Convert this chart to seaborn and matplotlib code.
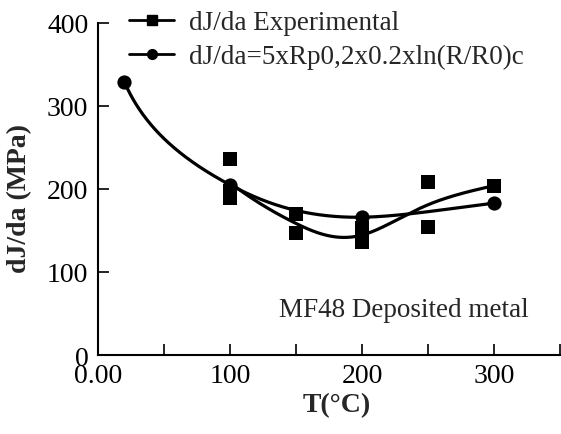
import numpy as np
import pandas as pd
import matplotlib
matplotlib.use("Agg")
import matplotlib.pyplot as plt
import seaborn as sns
from matplotlib.lines import Line2D
from matplotlib.ticker import FixedLocator, FixedFormatter

# Measured dJ/da values (MPa) at each test temperature (°C)
exp_T = [100, 100, 100, 150, 150, 200, 200, 250, 250, 300]
exp_J = [236, 198, 189, 170, 147, 153, 136, 208, 154, 204]

# Values from dJ/da = 5 x Rp0,2 x 0.2 x ln(R/R0)c
calc_T = [20, 100, 200, 300]
calc_J = [329, 205, 166, 183]

x_ticks = [0, 50, 100, 150, 200, 250, 300, 350]
x_tick_labels = ["0.00", "", "100", "", "200", "", "300", ""]
y_ticks = [0, 100, 200, 300, 400]

label_exp = "dJ/da Experimental"
label_calc = "dJ/da=5xRp0,2x0.2xln(R/R0)c"


def natural_spline(x, y, xs):
    """Natural cubic spline through (x, y), evaluated at xs."""
    x = np.asarray(x, float)
    y = np.asarray(y, float)
    n = len(x)
    h = np.diff(x)
    A = np.zeros((n, n))
    b = np.zeros(n)
    A[0, 0] = A[-1, -1] = 1.0
    for i in range(1, n - 1):
        A[i, i - 1] = h[i - 1]
        A[i, i] = 2 * (h[i - 1] + h[i])
        A[i, i + 1] = h[i]
        b[i] = 6 * ((y[i + 1] - y[i]) / h[i] - (y[i] - y[i - 1]) / h[i - 1])
    M = np.linalg.solve(A, b)
    xs = np.asarray(xs, float)
    k = np.clip(np.searchsorted(x, xs) - 1, 0, n - 2)
    t0 = x[k + 1] - xs
    t1 = xs - x[k]
    hk = h[k]
    return (M[k] * t0 ** 3 / (6 * hk) + M[k + 1] * t1 ** 3 / (6 * hk)
            + (y[k] / hk - M[k] * hk / 6) * t0
            + (y[k + 1] / hk - M[k + 1] * hk / 6) * t1)


def smooth_curve(T, J, n=400):
    """Smooth trend through the points, splined against log(T)."""
    T = np.asarray(T, float)
    grid = np.linspace(T.min(), T.max(), n)
    return grid, natural_spline(np.log(T), J, np.log(grid))


sns.set_style("ticks")
plt.rcParams["font.family"] = ["Liberation Serif", "DejaVu Serif"]

exp_df = pd.DataFrame({"T": exp_T, "J": exp_J})
calc_df = pd.DataFrame({"T": calc_T, "J": calc_J})
exp_mean = exp_df.groupby("T", as_index=False)["J"].mean()

fig = plt.figure(figsize=(5.61, 4.35), dpi=100)
ax = fig.add_axes([98 / 561, 1 - 356 / 435, 462 / 561, 332 / 435])

# Smooth trend lines
gx, gy = smooth_curve(exp_mean["T"], exp_mean["J"])
sns.lineplot(x=gx, y=gy, color="black", lw=2.3, ax=ax)
gx, gy = smooth_curve(calc_df["T"], calc_df["J"])
sns.lineplot(x=gx, y=gy, color="black", lw=2.3, ax=ax)

# Data markers
sns.scatterplot(data=calc_df, x="T", y="J", marker="o", s=105,
                color="black", edgecolor="black", linewidth=0, ax=ax, zorder=4)
sns.scatterplot(data=exp_df, x="T", y="J", marker="s", s=110,
                color="black", edgecolor="black", linewidth=0, ax=ax, zorder=5)

ax.set_xlim(0, 350)
ax.set_ylim(0, 400)
ax.xaxis.set_major_locator(FixedLocator(x_ticks))
ax.xaxis.set_major_formatter(FixedFormatter(x_tick_labels))
ax.set_yticks(y_ticks)
ax.tick_params(direction="in", length=8, width=1.2, labelsize=20,
               colors="black", pad=6)
ax.tick_params(axis="y", pad=7)
for side in ["top", "right"]:
    ax.spines[side].set_visible(False)
for side in ["left", "bottom"]:
    ax.spines[side].set_linewidth(1.5)
    ax.spines[side].set_color("black")

ax.set_xlabel("T(°C)", fontsize=20, fontweight="bold")
ax.xaxis.set_label_coords(0.517, -0.15)
ax.xaxis.label.set_verticalalignment("center")
ax.set_ylabel("dJ/da (MPa)", fontsize=20, fontweight="bold")
ax.yaxis.set_label_coords(-0.17, 0.475)
ax.yaxis.label.set_verticalalignment("center")

ax.text(137, 47, "MF48 Deposited metal", fontsize=19.5, va="baseline",
        ha="left")

handles = [
    Line2D([], [], color="black", lw=2.0, marker="s", markersize=7),
    Line2D([], [], color="black", lw=2.0, marker="o", markersize=7),
]
fig.legend(handles, [label_exp, label_calc], loc="upper left",
           bbox_to_anchor=(129 / 561, 1 - 11 / 435), frameon=False,
           fontsize=19.5, handlelength=1.67, handletextpad=0.55,
           labelspacing=0.33, borderpad=0, borderaxespad=0)

fig.savefig("out.png", dpi=100)
